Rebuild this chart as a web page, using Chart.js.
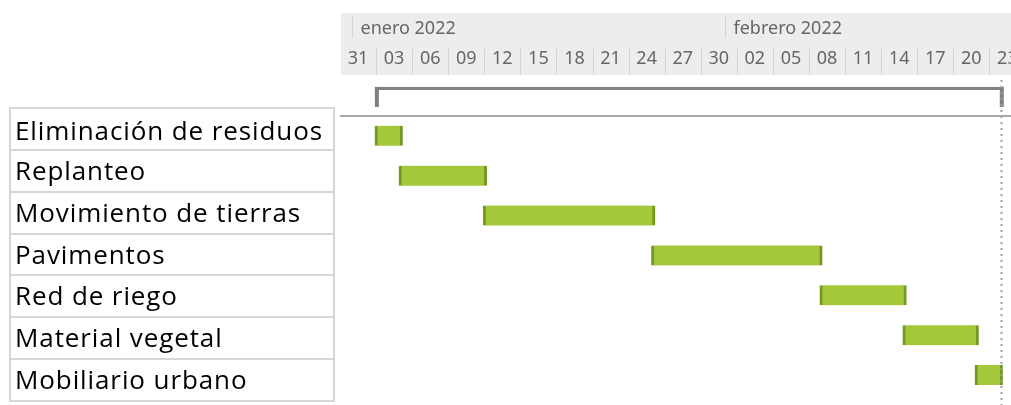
<!DOCTYPE html>
<html lang="es">
<head>
<meta charset="UTF-8">
<title>Gantt</title>
<script src="https://cdn.jsdelivr.net/npm/chart.js@4.4.0/dist/chart.umd.min.js"></script>
<style>
  body { margin: 0; background: #fff; }
  #wrap { position: relative; width: 1011px; height: 405px; overflow: hidden; }
  #chart { position: absolute; left: 0; top: 0; }
  .cell {
    position: absolute; left: 9px; width: 326px; box-sizing: border-box;
    border: 2px solid #d6d6d6; border-top-width: 0;
    font-family: "Open Sans", sans-serif; font-size: 26px; font-weight: 500; color: #000;
    letter-spacing: 0.9px; line-height: 1; white-space: nowrap;
  }
  .cell.first { border-top-width: 2px; }
  .cell span { position: absolute; left: 4px; }
</style>
</head>
<body>
<div id="wrap">
  <canvas id="chart" width="1011" height="405"></canvas>
  <div id="table"></div>
</div>

<script>
  // days counted from 31 Dec 2021 (day 0)
  const tasks = ['Eliminación de residuos', 'Replanteo', 'Movimiento de tierras', 'Pavimentos',
                 'Red de riego', 'Material vegetal', 'Mobiliario urbano'];
  const taskStart = [2.9, 4.9, 11.9, 25.9, 39.9, 46.8, 52.8];
  const taskEnd = [5.2, 12.2, 26.2, 40.1, 47.1, 53.1, 55.1];
  const summarySpan = [2.9, 55.2];
  const projectEnd = 55;

  const dayTickDays = [0, 3, 6, 9, 12, 15, 18, 21, 24, 27, 30, 33, 36, 39, 42, 45, 48, 51, 54];
  const dayTickLabels = ['31', '03', '06', '09', '12', '15', '18', '21', '24', '27', '30',
                         '02', '05', '08', '11', '14', '17', '20', '23'];
  const months = ['enero 2022', 'febrero 2022'];
  const monthStartDays = [1, 32];

  // left task table
  const table = document.getElementById('table');
  const rowTop = 107, rowH = 41.86;
  tasks.forEach((t, i) => {
    const d = document.createElement('div');
    d.className = 'cell' + (i === 0 ? ' first' : '');
    const top = i === 0 ? rowTop : rowTop + i * rowH + 2;
    d.style.top = top + 'px';
    d.style.height = (i === 0 ? rowH + 2 : rowH) + 'px';
    const s = document.createElement('span');
    s.textContent = t;
    s.style.top = (i === 0 ? 8 : 6) + 'px';
    d.appendChild(s);
    table.appendChild(d);
  });

  const ganttExtras = {
    id: 'ganttExtras',
    beforeDatasetsDraw(chart) {
      const { ctx, chartArea, scales } = chart;
      const x = scales.x, y = scales.y;
      ctx.save();
      // header
      ctx.fillStyle = '#ededed';
      ctx.fillRect(chartArea.left + 1, 13, chartArea.right - chartArea.left, 62);
      ctx.strokeStyle = '#d3d3d3';
      ctx.lineWidth = 1;
      ctx.fillStyle = '#666666';
      ctx.font = '18px "Noto Sans"';
      ctx.textBaseline = 'middle';
      months.forEach((m, i) => {
        const px = Math.round(x.getPixelForValue(monthStartDays[i])) + 0.5;
        ctx.beginPath(); ctx.moveTo(px, 16); ctx.lineTo(px, 38); ctx.stroke();
        ctx.textAlign = 'left';
        ctx.fillText(m, px + 8, 29);
      });
      dayTickDays.forEach((d, i) => {
        const px = Math.round(x.getPixelForValue(d)) + 0.5;
        if (i > 0) {
          ctx.beginPath(); ctx.moveTo(px, 49); ctx.lineTo(px, 75); ctx.stroke();
        }
        ctx.textAlign = 'center';
        ctx.fillText(dayTickLabels[i], x.getPixelForValue(d + 1.5), 59);
      });
      // separator below summary row
      const sep = (y.getPixelForValue(0) + y.getPixelForValue(1)) / 2;
      ctx.fillStyle = '#a8a8a8';
      ctx.fillRect(chartArea.left, Math.round(sep) - 1, chartArea.right - chartArea.left, 2);
      // summary bracket
      const sy = y.getPixelForValue(0);
      const x0 = x.getPixelForValue(summarySpan[0]), x1 = x.getPixelForValue(summarySpan[1]);
      ctx.fillStyle = '#808080';
      ctx.fillRect(x0, sy - 9, x1 - x0, 3);
      ctx.fillRect(x0, sy - 9, 4, 20);
      ctx.fillRect(x1 - 4, sy - 9, 4, 20);
      ctx.restore();
    },
    afterDatasetsDraw(chart) {
      const { ctx, chartArea, scales } = chart;
      const px = Math.round(scales.x.getPixelForValue(projectEnd)) + 0.5;
      ctx.save();
      ctx.strokeStyle = '#a0a0a0';
      ctx.lineWidth = 2;
      ctx.setLineDash([2, 4]);
      ctx.beginPath(); ctx.moveTo(px, chartArea.top + 4); ctx.lineTo(px, chart.height); ctx.stroke();
      ctx.restore();
    }
  };

  new Chart(document.getElementById('chart'), {
    type: 'bar',
    data: {
      labels: [''].concat(tasks),
      datasets: [{
        data: [null].concat(taskStart.map((s, i) => [s, taskEnd[i]])),
        backgroundColor: '#a5c83a',
        borderColor: '#729a21',
        borderWidth: { left: 3, right: 3, top: 0, bottom: 0 },
        borderSkipped: false,
        barThickness: 20
      }]
    },
    options: {
      indexAxis: 'y',
      responsive: false,
      animation: false,
      layout: { padding: { left: 340, top: 76, right: 0, bottom: 10 } },
      plugins: { legend: { display: false }, tooltip: { enabled: false } },
      scales: {
        x: { type: 'linear', min: 0, max: 55.8, display: false },
        y: { display: false }
      }
    },
    plugins: [ganttExtras]
  });
</script>
</body>
</html>
